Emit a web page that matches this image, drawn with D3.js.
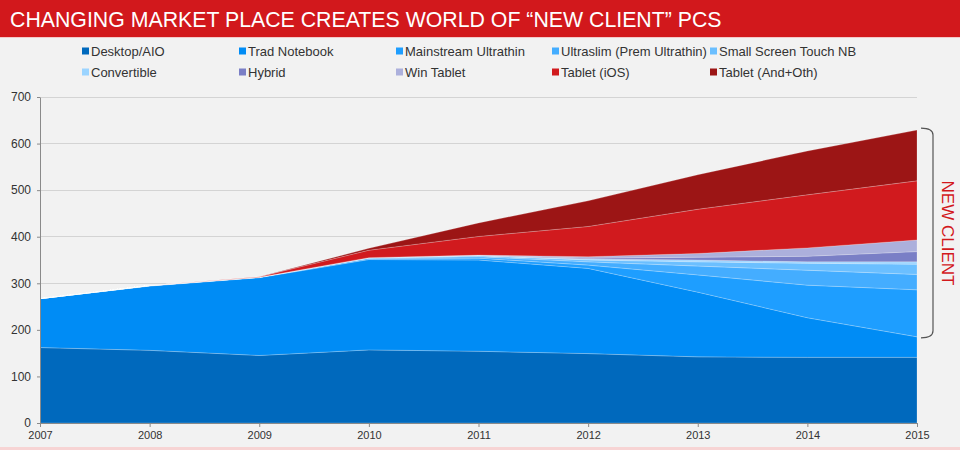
<!DOCTYPE html>
<html><head><meta charset="utf-8">
<script src="https://cdn.jsdelivr.net/npm/d3@7"></script>
<style>
html,body{margin:0;padding:0;background:#f2f2f2;}
svg{display:block;font-family:"Liberation Sans",Arial,sans-serif;}
</style></head>
<body><svg id="c" width="960" height="450"></svg>
<script>
const years = [2007, 2008, 2009, 2010, 2011, 2012, 2013, 2014, 2015];
const seriesNames = ["Desktop/AIO", "Trad Notebook", "Mainstream Ultrathin", "Ultraslim (Prem Ultrathin)", "Small Screen Touch NB", "Convertible", "Hybrid", "Win Tablet", "Tablet (iOS)", "Tablet (And+Oth)"];
const desktop     = [162, 156, 145, 157, 154, 149, 142, 141, 141];
const tradNb      = [105, 138, 167, 194, 196, 183, 139, 85, 44];
const mainstream  = [0, 1, 1, 2, 4, 7, 37, 70, 101];
const ultraslim   = [0, 0, 0, 1, 3, 7, 19, 32, 33];
const smallScreen = [0, 0, 0, 1, 2, 4, 9, 15, 22];
const convertible = [0, 0, 0, 0, 0.5, 2, 4, 3, 5];
const hybrid      = [0, 0, 0, 0, 0.5, 2, 6, 12, 22];
const winTablet   = [0, 0, 0, 0, 0.5, 3, 8, 18, 25];
const tabletIOS   = [0, 0, 1, 16, 40, 65, 95, 114, 127];
const tabletAnd   = [0, 0, 0, 4, 29, 55, 74, 94, 109];
const yTicks = [0, 100, 200, 300, 400, 500, 600, 700];
const titleText = "CHANGING MARKET PLACE CREATES WORLD OF \u201CNEW CLIENT\u201D PCS";
const bracketLabel = "NEW CLIENT";

const colors = ["#0069bd", "#008cf5", "#1e9eff", "#44adff", "#6bbfff", "#9bd4ff", "#7a7fc6", "#acb0dc", "#d11a1e", "#9c1515"];
const allSeries = [desktop, tradNb, mainstream, ultraslim, smallScreen, convertible, hybrid, winTablet, tabletIOS, tabletAnd];

const table = years.map((y, i) => {
  const row = {year: y};
  seriesNames.forEach((n, k) => row[n] = allSeries[k][i]);
  return row;
});

const svg = d3.select("#c");
svg.append("rect").attr("width", 960).attr("height", 450).attr("fill", "#f2f2f2");

// title bar
svg.append("rect").attr("x", 0).attr("y", 0).attr("width", 960).attr("height", 37).attr("fill", "#d2181c");
svg.append("rect").attr("x", 0).attr("y", 37).attr("width", 960).attr("height", 1).attr("fill", "#f4c9c9");
svg.append("text").attr("x", 10).attr("y", 26.5).attr("fill", "#fff")
  .attr("font-size", 21.3).text(titleText);
svg.append("rect").attr("x", 0).attr("y", 447).attr("width", 960).attr("height", 3).attr("fill", "#f7d4d4");

const x = d3.scaleLinear().domain([2007, 2015]).range([40, 917]);
const y = d3.scaleLinear().domain([0, 700]).range([423, 97]);

// gridlines
svg.append("g").selectAll("line").data(yTicks.filter(d => d > 0)).join("line")
  .attr("x1", 40).attr("x2", 917).attr("y1", d => y(d)).attr("y2", d => y(d))
  .attr("stroke", "#d4d4d4").attr("stroke-width", 1).attr("shape-rendering", "crispEdges");

const stack = d3.stack().keys(seriesNames)(table);
const area = d3.area().x(d => x(d.data.year)).y0(d => y(d[0])).y1(d => y(d[1]));
svg.append("g").selectAll("path").data(stack).join("path")
  .attr("d", area).attr("fill", (d, i) => colors[i])
  .attr("stroke", "rgba(255,255,255,0.3)").attr("stroke-width", 0.7);

// axes
const yAxis = d3.axisLeft(y).tickValues(yTicks).tickSize(3).tickSizeOuter(0);
const gy = svg.append("g").attr("transform", "translate(40,0)").call(yAxis);
gy.select(".domain").attr("stroke", "#8a8a8a");
gy.selectAll(".tick line").attr("stroke", "#8a8a8a");
gy.selectAll(".tick text").attr("fill", "#333").attr("font-size", 12).attr("x", -9)
  .attr("font-family", "Liberation Sans, Arial, sans-serif");

const xAxis = d3.axisBottom(x).tickValues(years).tickFormat(d3.format("d")).tickSize(4).tickSizeOuter(0);
const gx = svg.append("g").attr("transform", "translate(0,423)").call(xAxis);
gx.select(".domain").attr("stroke", "#8a8a8a");
gx.selectAll(".tick line").attr("stroke", "#8a8a8a");
gx.selectAll(".tick text").attr("fill", "#333").attr("font-size", 11).attr("y", 8)
  .attr("font-family", "Liberation Sans, Arial, sans-serif");

// legend
const legCols = [82, 239, 396, 552, 710];
const legRows = [51, 72];
const leg = svg.append("g").selectAll("g").data(seriesNames).join("g")
  .attr("transform", (d, i) => `translate(${legCols[i % 5]},${legRows[Math.floor(i / 5)]})`);
leg.append("rect").attr("x", 0).attr("y", -3.5).attr("width", 7).attr("height", 7)
  .attr("fill", (d, i) => colors[i]);
leg.append("text").attr("x", 9).attr("y", 4.5).attr("font-size", 13).attr("fill", "#333").text(d => d);

// bracket
const bx0 = 921, bx1 = 933, by0 = y(629) - 2, by1 = y(185) + 1, r = 7;
svg.append("path")
  .attr("d", `M${bx0},${by0} Q${bx1},${by0} ${bx1},${by0 + r} L${bx1},${by1 - r} Q${bx1},${by1} ${bx0},${by1}`)
  .attr("fill", "none").attr("stroke", "#555").attr("stroke-width", 1.2);
svg.append("text").attr("transform", `translate(942,233) rotate(90)`)
  .attr("text-anchor", "middle").attr("font-size", 17).attr("fill", "#d2181c").text(bracketLabel);
</script></body></html>
